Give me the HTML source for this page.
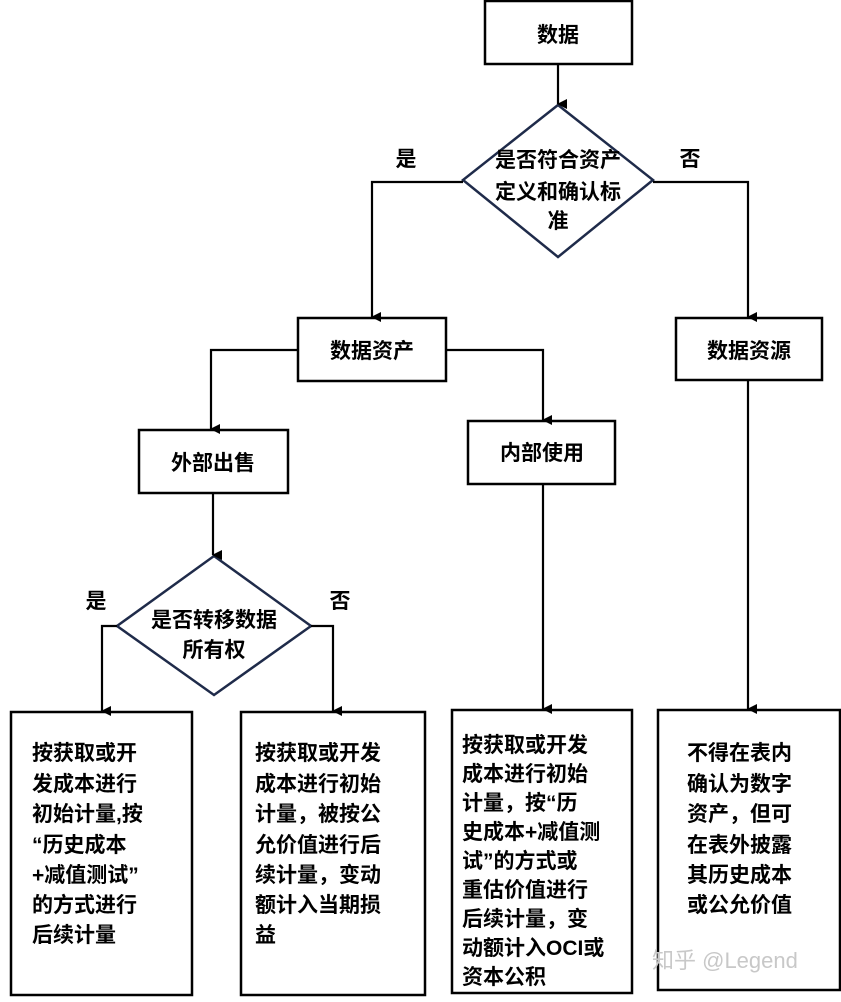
<!DOCTYPE html>
<html><head><meta charset="utf-8"><style>
body{margin:0;background:#fff}
svg text{font-family:"Liberation Sans","Noto Sans CJK SC",sans-serif;font-weight:bold;fill:#000}
</style></head><body>
<svg width="841" height="997" viewBox="0 0 841 997" xmlns="http://www.w3.org/2000/svg">
<defs><marker id="a" markerWidth="10" markerHeight="10" refX="5" refY="9" orient="auto" markerUnits="userSpaceOnUse"><path d="M0,0 L10,0 L5,10 Z" fill="#000"/></marker></defs>
<g fill="none" stroke="#000" stroke-width="2.5">
<rect x="485" y="1" width="147" height="63"/>
<rect x="298" y="318" width="148" height="63"/>
<rect x="676" y="318" width="146" height="62"/>
<rect x="139" y="430" width="149" height="63"/>
<rect x="468" y="421" width="147" height="63"/>
<rect x="11" y="712" width="181" height="283"/>
<rect x="241" y="712" width="184" height="283"/>
<rect x="452" y="710" width="180" height="283"/>
<rect x="658" y="710" width="182" height="280"/>
</g>
<g fill="none" stroke="#1f2b4a" stroke-width="2.5">
<polygon points="558,105 653,180 558,257 463,180" fill="#fff"/>
<polygon points="214,556 311,626 214,695 117,626" fill="#fff"/>
</g>
<g fill="none" stroke="#000" stroke-width="2.2" marker-end="url(#a)">
<path d="M558,64 V104"/>
<path d="M463,182 H372 V317"/>
<path d="M653,182 H748 V317"/>
<path d="M298,350 H211 V429"/>
<path d="M446,350 H543 V420"/>
<path d="M213,493 V555"/>
<path d="M117,626 H102 V711"/>
<path d="M311,626 H333 V711"/>
<path d="M543,484 V709"/>
<path d="M748,380 V709"/>
</g>
<g font-size="21" text-anchor="middle">
<text x="558" y="42">数据</text>
<text x="558" y="167">是否符合资产</text>
<text x="558" y="199">定义和确认标</text>
<text x="558" y="228">准</text>
<text x="406" y="166">是</text>
<text x="690" y="166">否</text>
<text x="372" y="358">数据资产</text>
<text x="749" y="358">数据资源</text>
<text x="213" y="470">外部出售</text>
<text x="542" y="460">内部使用</text>
<text x="214" y="627">是否转移数据</text>
<text x="214" y="657">所有权</text>
<text x="96" y="608">是</text>
<text x="340" y="608">否</text>
</g>
<g font-size="21">
<text x="32" y="760">按获取或开</text>
<text x="32" y="791">发成本进行</text>
<text x="32" y="821">初始计量,按</text>
<text x="32" y="852">“历史成本</text>
<text x="32" y="882">+减值测试”</text>
<text x="32" y="912">的方式进行</text>
<text x="32" y="942">后续计量</text>
<text x="255" y="760">按获取或开发</text>
<text x="255" y="791">成本进行初始</text>
<text x="255" y="821">计量，被按公</text>
<text x="255" y="852">允价值进行后</text>
<text x="255" y="882">续计量，变动</text>
<text x="255" y="912">额计入当期损</text>
<text x="255" y="942">益</text>
<text x="462" y="752">按获取或开发</text>
<text x="462" y="781">成本进行初始</text>
<text x="462" y="810">计量，按“历</text>
<text x="462" y="839">史成本+减值测</text>
<text x="462" y="868">试”的方式或</text>
<text x="462" y="897">重估价值进行</text>
<text x="462" y="926">后续计量，变</text>
<text x="462" y="955">动额计入OCI或</text>
<text x="462" y="984">资本公积</text>
<text x="687" y="760">不得在表内</text>
<text x="687" y="791">确认为数字</text>
<text x="687" y="821">资产，但可</text>
<text x="687" y="852">在表外披露</text>
<text x="687" y="882">其历史成本</text>
<text x="687" y="912">或公允价值</text>
</g>
<text x="652" y="968" font-size="22" style="font-weight:normal;fill:#c8c8c8">知乎 @Legend</text>
</svg>
</body></html>
